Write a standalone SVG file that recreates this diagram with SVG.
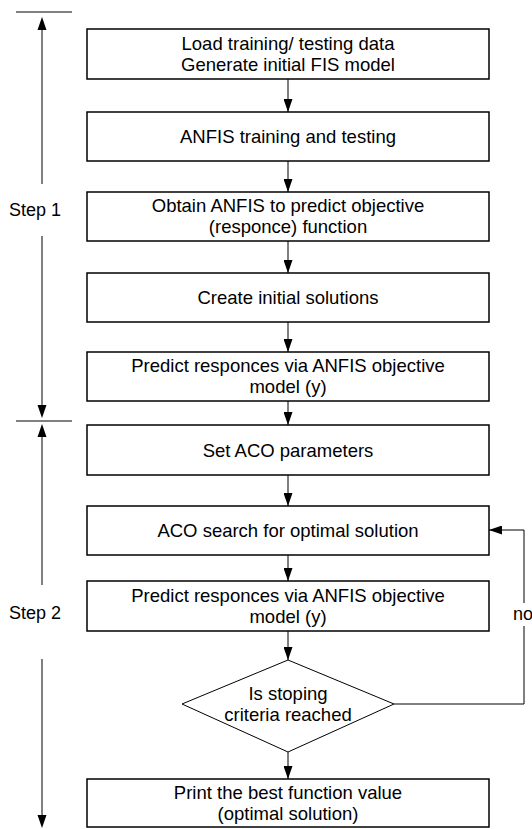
<svg xmlns="http://www.w3.org/2000/svg" width="532" height="829" viewBox="0 0 532 829">
<defs>
<marker id="ah" markerWidth="13" markerHeight="9" refX="13" refY="4.5" orient="auto" markerUnits="userSpaceOnUse"><path d="M0,0 L13,4.5 L0,9 z" fill="#000"/></marker>
<style>
.box{fill:#fff;stroke:#000;stroke-width:1.5}
.dia{fill:#fff;stroke:#000;stroke-width:1}
.t{font-family:"Liberation Sans",Arial,sans-serif;font-size:18.5px;fill:#000;text-anchor:middle}
.tl{font-family:"Liberation Sans",Arial,sans-serif;font-size:18px;fill:#000}
.c{fill:none;stroke:#000;stroke-width:1}
.s{fill:none;stroke:#808080;stroke-width:2}
</style>
</defs>
<rect width="532" height="829" fill="#fff"/>
<g id="connectors">
<line class="c" x1="288" y1="79" x2="288" y2="112" marker-end="url(#ah)"/>
<line class="c" x1="288" y1="161" x2="288" y2="192" marker-end="url(#ah)"/>
<line class="c" x1="288" y1="241" x2="288" y2="273" marker-end="url(#ah)"/>
<line class="c" x1="288" y1="322" x2="288" y2="352" marker-end="url(#ah)"/>
<line class="c" x1="288" y1="401" x2="288" y2="425" marker-end="url(#ah)"/>
<line class="c" x1="288" y1="475" x2="288" y2="506" marker-end="url(#ah)"/>
<line class="c" x1="288" y1="555" x2="288" y2="581" marker-end="url(#ah)"/>
<line class="c" x1="288" y1="631" x2="288" y2="660" marker-end="url(#ah)"/>
<line class="c" x1="288" y1="752" x2="288" y2="779" marker-end="url(#ah)"/>
<path class="c" d="M394,704 H524 V626"/>
<path class="c" d="M524,603 V530 H489" marker-end="url(#ah)"/>
<text class="tl" x="513" y="620">no</text>
</g>
<g id="steps">
<line class="s" x1="16" y1="12" x2="72" y2="12"/>
<line class="s" x1="16" y1="421" x2="72" y2="421"/>
<line class="s" x1="42" y1="184" x2="42" y2="29"/>
<polygon points="42,17 37.5,30 46.5,30" fill="#000"/>
<line class="s" x1="42" y1="236" x2="42" y2="406"/>
<polygon points="42,418 37.5,405 46.5,405" fill="#000"/>
<line class="s" x1="42" y1="585" x2="42" y2="436"/>
<polygon points="42,424 37.5,437 46.5,437" fill="#000"/>
<line class="s" x1="42" y1="659" x2="42" y2="816"/>
<polygon points="42,828 37.5,815 46.5,815" fill="#000"/>
<text class="tl" x="9" y="216">Step 1</text>
<text class="tl" x="9" y="619">Step 2</text>
</g>
<g id="n1"><rect class="box" x="87" y="29" width="402" height="50"/><text class="t" x="288" y="49.5">Load training/ testing data</text><text class="t" x="288" y="70.5">Generate initial FIS model</text></g>
<g id="n2"><rect class="box" x="87" y="112" width="402" height="49"/><text class="t" x="288" y="143">ANFIS training and testing</text></g>
<g id="n3"><rect class="box" x="87" y="192" width="402" height="49"/><text class="t" x="288" y="212">Obtain ANFIS to predict objective</text><text class="t" x="288" y="233">(responce) function</text></g>
<g id="n4"><rect class="box" x="87" y="273" width="402" height="49"/><text class="t" x="288" y="304">Create initial solutions</text></g>
<g id="n5"><rect class="box" x="87" y="352" width="402" height="49"/><text class="t" x="288" y="372">Predict responces via ANFIS objective</text><text class="t" x="288" y="393">model (y)</text></g>
<g id="n6"><rect class="box" x="87" y="425" width="402" height="50"/><text class="t" x="288" y="456.5">Set ACO parameters</text></g>
<g id="n7"><rect class="box" x="87" y="506" width="402" height="49"/><text class="t" x="288" y="537">ACO search for optimal solution</text></g>
<g id="n8"><rect class="box" x="87" y="581" width="402" height="50"/><text class="t" x="288" y="601.5">Predict responces via ANFIS objective</text><text class="t" x="288" y="622.5">model (y)</text></g>
<g id="n9"><polygon class="dia" points="288,660 394,704 288,752 182,704"/><text class="t" x="288" y="699.5">Is stoping</text><text class="t" x="288" y="720.5">criteria reached</text></g>
<g id="n10"><rect class="box" x="87" y="779" width="402" height="48"/><text class="t" x="288" y="799">Print the best function value</text><text class="t" x="288" y="820">(optimal solution)</text></g>
</svg>
